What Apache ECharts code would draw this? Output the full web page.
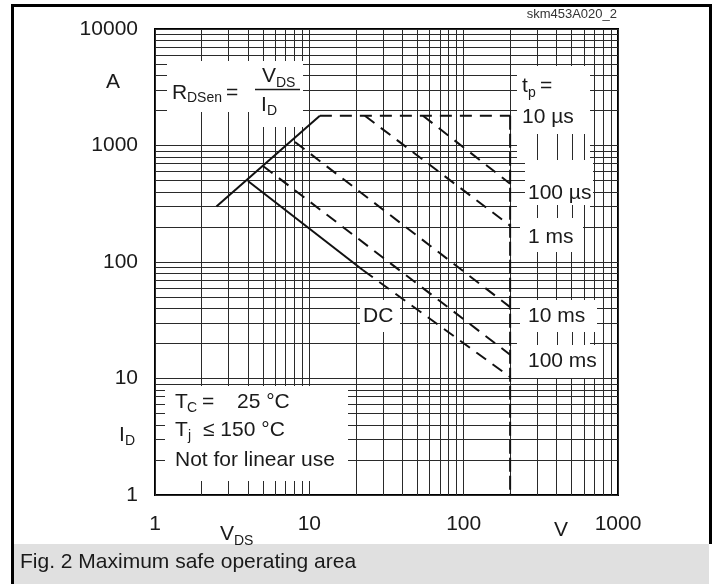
<!DOCTYPE html>
<html><head><meta charset="utf-8">
<script src="https://cdn.jsdelivr.net/npm/echarts@6/dist/echarts.min.js"></script>
<style>html,body{margin:0;padding:0;background:#fff}#c{width:716px;height:584px}</style>
</head><body><div id="c"></div>
<script>
// ---- data ----
const xTickLabels = ['1', '10', '100', '1000'];
const yTickLabels = ['1', '10', '100', '1000', '10000'];
const minorSteps = [2, 3, 4, 5, 6, 7, 8, 9];
const xDecades = [1, 10, 100];
const yDecades = [1, 10, 100, 1000];
const rdsOnLimit = [[2.5, 300], [11.7, 1800]];
const tp10us = [[11.7, 1800], [200, 1800]];
const vdssLimit = [[200, 1800], [200, 1]];
const tp100us = [[54.5, 1800], [200, 470]];
const tp1ms = [[22.9, 1800], [200, 205]];
const tp10ms = [[8.07, 1072], [200, 41]];
const tp100ms = [[5.01, 667], [200, 16]];
const dcSolid = [[4.0, 496], [22.3, 85]];
const dcDashed = [[22.3, 85], [200, 10.3]];
const stubVoltages = [300, 400, 500, 600];

const FONT = "'Liberation Sans', Arial, Helvetica, sans-serif";
const INK = '#1a1a1a';
const GRIDC = '#2a2a2a';

const xMinor = [], yMinor = [];
xDecades.forEach(d => minorSteps.forEach(m => xMinor.push(d * m)));
yDecades.forEach(d => minorSteps.forEach(m => yMinor.push(d * m)));

const chart = echarts.init(document.getElementById('c'), null, {renderer: 'canvas'});

function dataLine(name, data, dash, z) {
  return {
    name, type: 'line', data, symbol: 'none', silent: true, z: z || 100,
    lineStyle: {color: '#111', width: 2, type: dash || 'solid'}
  };
}

const option = {
  animation: false,
  backgroundColor: '#fff',
  grid: {left: 155, top: 29, width: 463, height: 466, show: true, borderColor: '#000', borderWidth: 2, backgroundColor: 'transparent'},
  xAxis: {
    type: 'log', logBase: 10, min: 1, max: 1000,
    axisLine: {show: false}, axisTick: {show: false},
    splitLine: {show: true, lineStyle: {color: GRIDC, width: 1}},
    axisLabel: {fontFamily: FONT, fontSize: 21, color: INK, margin: 19,
      formatter: v => xTickLabels[Math.round(Math.log10(v))]}
  },
  yAxis: {
    type: 'log', logBase: 10, min: 1, max: 10000,
    axisLine: {show: false}, axisTick: {show: false},
    splitLine: {show: true, lineStyle: {color: GRIDC, width: 1}},
    axisLabel: {fontFamily: FONT, fontSize: 21, color: INK, margin: 17,
      formatter: v => yTickLabels[Math.round(Math.log10(v))]}
  },
  series: [
    {
      name: 'grid-minor', type: 'line', data: [], symbol: 'none', silent: true, z: 1,
      markLine: {
        silent: true, symbol: ['none', 'none'], z: 1, animation: false,
        label: {show: false},
        lineStyle: {color: GRIDC, width: 1, type: 'solid'},
        emphasis: {disabled: true},
        data: xMinor.map(v => ({xAxis: v})).concat(yMinor.map(v => ({yAxis: v})))
      }
    },
    dataLine('RDSon', rdsOnLimit, 'solid'),
    dataLine('10 µs', tp10us, [12, 8]),
    dataLine('VDSS', vdssLimit, [14, 4]),
    dataLine('100 µs', tp100us, [12, 8]),
    dataLine('1 ms', tp1ms, [12, 8]),
    dataLine('10 ms', tp10ms, [12, 8]),
    dataLine('100 ms', tp100ms, [12, 8]),
    dataLine('DC', dcSolid, 'solid'),
    dataLine('DC cont.', dcDashed, [12, 8])
  ]
};
chart.setOption(option);

// ---- annotations ----
function txt(x, y, s, size, extra) {
  return Object.assign({type: 'text', x, y, z: 60, silent: true,
    style: {text: s, fontFamily: FONT, fontSize: size || 21, fill: INK, align: 'left', verticalAlign: 'middle'}}, extra || {});
}
function wrect(x, y, w, h, fill) {
  return {type: 'rect', z: 50, silent: true, shape: {x, y, width: w, height: h}, style: {fill: fill || '#fff'}};
}
const els = [];
// outer frame and caption
els.push(wrect(11, 4, 3, 580, '#000'));
els.push(wrect(11, 4, 701, 3, '#000'));
els.push(wrect(709, 4, 3, 540, '#000'));
els.push(wrect(14, 544, 695, 40, '#e0e0e0'));
els.push(txt(20, 562, 'Fig. 2 Maximum safe operating area', 21));
els.push(txt(617, 14, 'skm453A020_2', 13));
els[els.length - 1].style.align = 'right';
els[els.length - 1].style.fill = '#333';

// white label boxes inside the plot
els.push(wrect(167, 61, 136, 51));
els.push(wrect(251, 112, 52, 15));
els.push(wrect(517, 66, 73, 68));
els.push(wrect(525, 160, 68, 45));
els.push(wrect(520, 218, 63, 34));
els.push(wrect(520, 300, 77, 32));
els.push(wrect(520, 345, 78, 33));
els.push(wrect(360, 300, 40, 32));
els.push(wrect(165, 386, 183, 95));
// column gaps with only vertical stubs
const gaps = [[134, 160], [205, 218], [332, 345]];
gaps.forEach(g => els.push(wrect(517, g[0], 73, g[1] - g[0])));
stubVoltages.forEach(v => {
  const px = Math.round(chart.convertToPixel({xAxisIndex: 0}, v)) + 0.5;
  gaps.forEach(g => els.push({type: 'line', z: 55, silent: true,
    shape: {x1: px, y1: g[0], x2: px, y2: g[1]}, style: {stroke: GRIDC, lineWidth: 1}}));
});

// R_DSen = V_DS / I_D
els.push(txt(172, 93, 'R'));
els.push(txt(187, 98, 'DSen', 14));
els.push(txt(226, 93, '='));
els.push(txt(262, 76, 'V'));
els.push(txt(276, 83, 'DS', 14));
els.push({type: 'line', z: 60, silent: true, shape: {x1: 255, y1: 89.5, x2: 300, y2: 89.5}, style: {stroke: INK, lineWidth: 1.5}});
els.push(txt(261, 105, 'I'));
els.push(txt(267, 111, 'D', 14));
// t_p labels
els.push(txt(522, 86, 't'));
els.push(txt(528, 93, 'p', 14));
els.push(txt(540, 86, '='));
els.push(txt(522, 117, '10 µs'));
els.push(txt(528, 193, '100 µs'));
els.push(txt(528, 237, '1 ms'));
els.push(txt(528, 316, '10 ms'));
els.push(txt(528, 361, '100 ms'));
els.push(txt(363, 316, 'DC'));
// conditions box
els.push(txt(175, 402, 'T'));
els.push(txt(187, 408, 'C', 14));
els.push(txt(202, 402, '='));
els.push(txt(237, 402, '25 °C'));
els.push(txt(175, 430, 'T'));
els.push(txt(188, 436, 'j', 14));
els.push(txt(203, 430, '≤ 150 °C'));
els.push(txt(175, 460, 'Not for linear use'));
// axis names
els.push(txt(106, 82, 'A'));
els.push(txt(119, 435, 'I'));
els.push(txt(125, 441, 'D', 14));
els.push(txt(220, 534, 'V'));
els.push(txt(234, 541, 'DS', 14));
els.push(txt(554, 530, 'V'));

chart.setOption({graphic: {elements: els}});
</script></body></html>
